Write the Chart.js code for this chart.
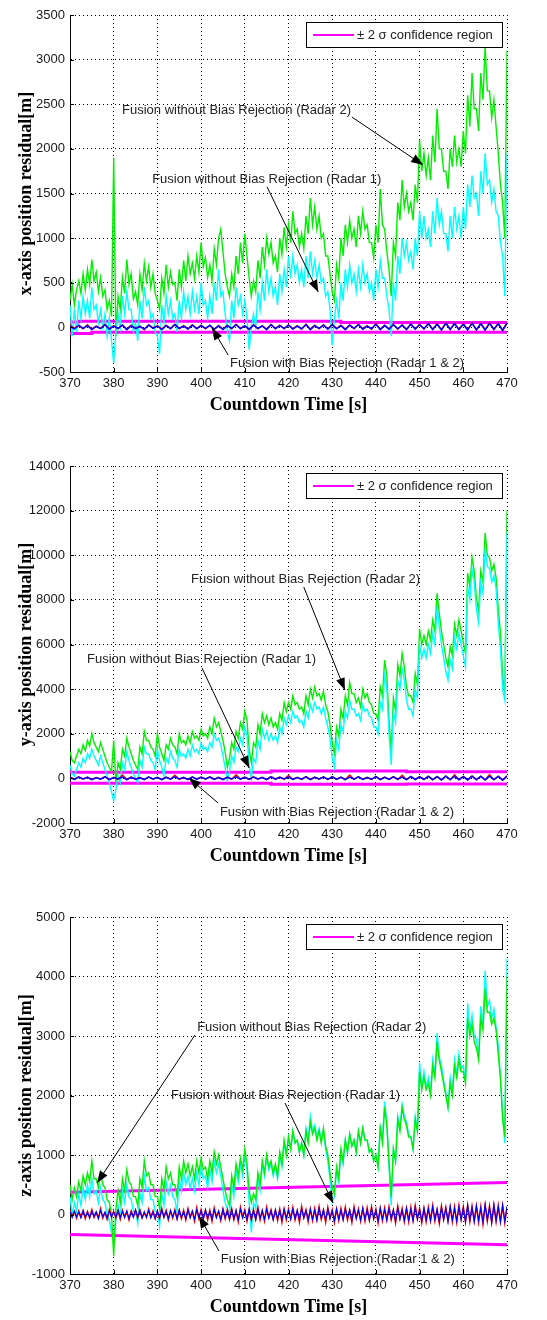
<!DOCTYPE html>
<html>
<head>
<meta charset="utf-8">
<script src="https://cdn.jsdelivr.net/npm/chart.js@4.4.0/dist/chart.umd.min.js"></script>
<style>
  html, body { margin: 0; padding: 0; background: #fff; }
  body { width: 547px; height: 1320px; position: relative; overflow: hidden; }
  canvas { position: absolute; left: 0; }
</style>
</head>
<body>
<canvas id="xChart" style="top:0px" width="547" height="418"></canvas>
<canvas id="yChart" style="top:450px" width="547" height="419"></canvas>
<canvas id="zChart" style="top:900px" width="547" height="420"></canvas>
<script>
// ---- data ----
const timeStart = 370;
const timeTicks = [370, 380, 390, 400, 410, 420, 430, 440, 450, 460, 470];
const xResTicks = [-500, 0, 500, 1000, 1500, 2000, 2500, 3000, 3500];
const yResTicks = [-2000, 0, 2000, 4000, 6000, 8000, 10000, 12000, 14000];
const zResTicks = [-1000, 0, 1000, 2000, 3000, 4000, 5000];
const legendLabel = '\u00b1 2 \u03c3 confidence region';

// x-axis residual, 0.5 s samples
const xRadar2 = [300,480, 250,420, 520,380, 600,420, 650,480, 760,520, 620,400, 560,350, 420,200, 300,120,
 1900,-100, 350,200, 560,380, 760,480, 600,320, 400,250, 600,420, 720,520, 680,450, 600,380,
 300,200, 550,380, 700,450, 620,480, 500,300, 650,450, 750,520, 800,600, 720,550, 800,620,
 950,680, 780,560, 700,520, 880,700, 1000,1100, 850,600, 450,350, 600,450, 800,600, 950,720,
 1050,800, 550,350, 520,400, 750,550, 900,700, 1000,820, 950,720, 800,620, 1000,820, 1120,900,
 1150,950, 1300,1050, 1100,900, 1050,880, 1250,1050, 1450,1150, 1350,1100, 1250,1000, 1050,800, 800,600,
 400,300, 700,550, 1000,800, 1150,950, 1200,1000, 1100,900, 1250,1050, 1300,1100, 1150,950, 950,780,
 1150,950, 1550,1150, 1100,850, 650,350, 950,800, 1400,1200, 1650,1350, 1500,1300, 1400,1200, 1600,1400,
 2100,1750, 1950,1700, 1900,1650, 2150,1850, 2450,2000, 2000,1750, 1750,1550, 2000,1800, 2150,1850, 2000,1800,
 2200,1950, 2600,2250, 2850,2450, 2450,2200, 2850,2550, 3150,2650, 2650,2350, 2550,2250, 1950,1600, 1400,1000,
 3100];
const xRadar1 = [250,-100, 200,-50, 300,100, 350,150, 300,100, 450,200, 250,50, 200,0, 150,-100, 100,-150,
 -400,-50, 150,0, 350,150, 400,200, 200,-50, 50,-150, 300,100, 450,250, 300,100, 150,-50,
 -100,-300, 250,50, 350,150, 300,100, 150,-50, 300,100, 400,200, 350,150, 400,200, 350,150,
 500,250, 300,100, 350,150, 500,300, 650,350, 400,150, -50,-150, 300,100, 450,250, 350,150,
 300,100, -250,0, 150,0, 400,200, 500,300, 650,400, 550,350, 450,250, 600,400, 650,450,
 800,550, 800,600, 700,500, 650,450, 800,550, 850,600, 750,550, 700,500, 550,350, 400,200,
 -200,100, 300,100, 500,300, 650,450, 700,500, 600,400, 650,450, 700,500, 600,400, 500,300,
 650,450, 750,550, 550,350, 200,-100, 500,300, 800,600, 1000,800, 950,750, 850,650, 1000,800,
 1300,1000, 1250,1000, 1100,900, 1300,1050, 1450,1150, 1300,1050, 1050,850, 1250,1000, 1350,1100, 1250,1000,
 1350,1100, 1600,1350, 1700,1450, 1500,1250, 1750,1500, 1950,1600, 1650,1400, 1550,1300, 1250,950, 800,350,
 1950];
// bias-rejected fusion, 1 s samples
const xBiasBlue = [15,-20,25,-10,20,-25,10,-15,30,-20,
 15,-10,25,-25,20,-15,10,-20,25,-10,
 15,-25,20,-15,30,-10,15,-20,25,-15,
 20,-10,25,-20,15,-25,20,-10,30,-15,
 20,-20,25,-10,15,-25,30,-15,20,-10,
 25,-20,15,-15,30,-25,20,-10,25,-20,
 30,-15,20,-25,25,-10,30,-20,15,-15,
 35,-25,20,-20,30,-15,25,-25,35,-20,
 30,-15,40,-25,35,-30,45,-20,40,-25,
 35,-30,45,-25,40,-30,45,-20,40,-35,
 45];
const xBiasRed = [25,-10,20,-15,30,-20,15,-10,35,-15,
 20,-15,30,-20,25,-10,15,-25,30,-5,
 20,-20,25,-10,35,-15,20,-15,30,-10,
 25,-15,20,-25,20,-20,25,-15,35,-10,
 15,-25,30,-15,20,-20,35,-10,25,-15,
 30,-15,20,-20,35,-20,25,-15,30,-15,
 35,-10,25,-20,30,-15,35,-15,20,-20,
 40,-20,25,-15,35,-20,30,-20,40,-15,
 35,-20,45,-20,40,-25,50,-25,45,-20,
 40,-25,50,-30,45,-25,50,-25,45,-30,
 50];
const xSigmaUpT = [370, 372, 372, 432, 432, 470];
const xSigmaUp = [60, 60, 68, 68, 55, 55];
const xSigmaLoT = [370, 375, 375, 470];
const xSigmaLo = [-68, -68, -55, -55];

// y-axis residual
const yRadar2 = [1200,800, 700,1000, 1300,1100, 1500,1250, 1700,1450, 2000,1600, 1400,1200, 1600,1300, 1000,700, 500,300,
 1700,-200, 700,400, 1300,1000, 1800,1400, 1100,800, 600,400, 1400,1100, 2100,1700, 1700,1400, 1300,1000,
 2000,1400, 1100,800, 1500,1300, 1800,1500, 1400,1100, 2000,1600, 1700,1500, 1900,1600, 2100,1800, 1900,1700,
 2200,1900, 2000,1800, 2300,2000, 2700,2300, 2500,2100, 1700,1200, 500,900, 1600,1300, 2100,1800, 2500,2200,
 3000,2600, 1300,700, 1600,1400, 2400,2000, 2900,2500, 2800,2400, 2700,2300, 2500,2200, 2900,2600, 3400,3000,
 3400,3100, 3700,3300, 3400,3100, 3200,2900, 3700,3300, 4000,3600, 4100,3700, 3800,3500, 3900,3300, 3000,2400,
 1600,1100, 2300,1900, 3100,2700, 3700,3300, 4300,3800, 3800,3400, 3600,3200, 4000,3600, 3800,3400, 3300,2900,
 2900,2600, 4100,3700, 5300,4600, 2600,1200, 3600,3000, 5100,4600, 5600,5000, 4100,3700, 3700,3400, 4700,4200,
 6700,6000, 6400,6000, 6600,6200, 7100,6600, 8300,7400, 6600,6000, 5400,5000, 5900,5500, 6900,6400, 7100,6600,
 6100,5600, 9200,8600, 9900,9300, 8100,7500, 9300,8800, 11000,10000, 9900,9300, 9600,9000, 7600,6500, 4600,3800,
 12000];
const yRadar1 = [600,200, 100,400, 700,500, 900,700, 1100,900, 1300,1000, 800,600, 1000,700, 400,100, -200,-600,
 -1000,-500, 100,-200, 700,400, 1200,800, 500,200, 0,-200, 800,500, 1400,1100, 1100,800, 700,400,
 1300,800, 500,100, 900,700, 1200,900, 800,500, 1300,1000, 1100,900, 1300,1000, 1500,1200, 1300,1100,
 1600,1300, 1400,1200, 1600,1400, 2000,1700, 1800,1500, 1000,500, -100,300, 1000,700, 1400,1200, 1800,1500,
 2300,1900, 600,0, 900,700, 1700,1300, 2200,1800, 2100,1700, 2000,1700, 1900,1600, 2300,2000, 2700,2400,
 2800,2500, 3000,2700, 2800,2500, 2600,2300, 3000,2700, 3300,3000, 3400,3100, 3200,2900, 3200,2700, 2300,1800,
 900,500, 1700,1300, 2400,2100, 3000,2700, 3500,3100, 3100,2800, 2900,2600, 3300,3000, 3100,2800, 2700,2300,
 2300,2000, 3400,3100, 4600,4000, 2000,600, 3000,2500, 4400,4000, 4900,4400, 3500,3100, 3100,2800, 4000,3600,
 6000,5400, 5800,5400, 6000,5600, 6500,6000, 7700,6800, 6000,5400, 4800,4400, 5300,4900, 6300,5800, 6500,6000,
 5500,5000, 8600,8000, 9400,8800, 7600,7000, 8800,8300, 10300,9500, 9400,8800, 9100,8500, 7000,5800, 4000,3500,
 11000];
const yBiasBlue = [40,-50,60,-30,50,-60,30,-40,70,-50,
 40,-30,60,-60,50,-40,30,-50,60,-30,
 40,-60,50,-40,70,-30,40,-50,60,-40,
 50,-30,60,-50,40,-60,50,-30,70,-40,
 50,-50,60,-30,40,-60,70,-40,50,-30,
 60,-50,40,-40,70,-60,50,-30,60,-50,
 70,-40,50,-60,60,-30,70,-50,40,-40,
 80,-60,50,-50,70,-40,60,-60,80,-50,
 70,-40,90,-60,80,-70,100,-50,90,-60,
 80,-70,100,-60,90,-70,100,-50,90,-80,
 100];
const yBiasRed = [50,-40,70,-40,60,-50,40,-30,80,-60,
 50,-40,150,-50,60,-30,40,-60,70,-40,
 50,-50,60,-30,140,-40,50,-60,70,-30,
 60,-40,70,-40,50,-50,60,-40,160,-30,
 60,-40,70,-40,50,-50,80,-30,60,-40,
 130,-40,50,-50,80,-50,60,-40,70,-40,
 80,-50,60,-50,150,-40,80,-40,50,-50,
 90,-50,60,-40,80,-50,140,-50,90,-40,
 80,-50,100,-50,90,-60,110,-60,160,-50,
 90,-60,110,-50,100,-60,170,-60,100,-70,
 110];
const ySigmaT = [370, 416, 416, 447, 447, 470];
const ySigmaUp = [280, 280, 330, 330, 300, 300];
const ySigmaLo = [-220, -220, -260, -260, -250, -250];

// z-axis residual
const zRadar2 = [500,250, 450,300, 550,400, 650,500, 700,550, 900,600, 600,450, 700,500, 450,250, 200,0,
 -700,100, 400,200, 600,400, 750,550, 500,300, 300,150, 600,450, 900,650, 700,500, 500,300,
 300,100, 600,400, 800,600, 700,500, 500,300, 800,600, 900,700, 850,650, 800,600, 900,700,
 950,750, 800,600, 900,700, 1050,850, 1000,800, 600,400, 250,150, 650,450, 850,650, 950,750,
 1100,850, 400,200, 350,250, 700,500, 900,700, 1000,800, 900,700, 850,650, 1050,850, 1250,1000,
 1300,1100, 1400,1200, 1250,1050, 1200,1000, 1400,1200, 1550,1350, 1450,1250, 1400,1200, 1450,1150, 1000,700,
 450,350, 800,600, 1100,900, 1250,1050, 1350,1150, 1250,1050, 1400,1200, 1450,1250, 1250,1050, 1100,900,
 1000,800, 1450,1200, 1800,1500, 900,300, 1100,900, 1600,1400, 1800,1600, 1500,1300, 1300,1100, 1600,1400,
 2400,2100, 2300,2100, 2200,2000, 2500,2300, 2900,2600, 2400,2200, 2000,1800, 2200,2000, 2500,2300, 2600,2400,
 2400,2200, 3300,3000, 3200,2900, 2800,2600, 3300,3100, 3800,3400, 3400,3200, 3300,3100, 2700,2300, 1600,1300,
 4000];
const zRadar1 = [300,0, 200,50, 350,150, 450,250, 500,300, 600,350, 400,200, 450,250, 200,0, -100,-300,
 -400,-100, 150,-50, 400,200, 500,300, 250,50, 50,-150, 350,200, 650,400, 450,250, 250,50,
 50,-200, 350,150, 550,350, 500,300, 250,50, 600,400, 700,500, 650,450, 600,400, 700,500,
 800,600, 650,450, 750,550, 900,700, 850,650, 400,200, 100,0, 500,300, 750,550, 850,650,
 1000,750, 200,-300, 200,100, 600,400, 850,650, 950,750, 850,650, 800,600, 1000,800, 1200,1000,
 1300,1100, 1400,1200, 1250,1050, 1200,1000, 1450,1250, 1650,1400, 1500,1300, 1450,1250, 1400,1100, 900,600,
 200,300, 750,550, 1050,850, 1250,1050, 1350,1150, 1250,1050, 1400,1200, 1450,1250, 1250,1050, 1100,900,
 1000,800, 1500,1250, 1900,1550, 800,150, 1100,900, 1650,1450, 1850,1650, 1550,1350, 1300,1100, 1650,1400,
 2550,2150, 2400,2150, 2300,2050, 2600,2350, 3050,2650, 2500,2250, 2050,1800, 2300,2050, 2600,2350, 2700,2450,
 2500,2250, 3550,3100, 3350,3000, 2950,2650, 3500,3200, 4100,3500, 3600,3300, 3450,3150, 2850,2300, 1700,1200,
 4300];
const zBiasBlue = [50,-50, 60,-40, 40,-60, 70,-40, 40,-60, 60,-30, 50,-70, 70,-40, 40,-60, 60,-50,
 40,-40, 70,-50, 50,-40, 60,-70, 40,-50, 80,-40, 60,-60, 50,-40, 70,-60, 40,-70,
 60,-50, 80,-50, 50,-70, 70,-40, 60,-80, 80,-50, 50,-70, 80,-60, 60,-80, 80,-50,
 60,-80, 80,-60, 50,-80, 80,-60, 60,-80, 90,-50, 60,-80, 80,-70, 70,-90, 90,-60,
 60,-80, 90,-70, 60,-90, 90,-60, 70,-80, 90,-60, 60,-90, 80,-70, 70,-90, 90,-60,
 70,-80, 90,-70, 70,-90, 100,-60, 60,-90, 90,-80, 70,-100, 100,-60, 80,-90, 90,-70,
 60,-100, 100,-80, 70,-90, 90,-60, 80,-100, 100,-70, 70,-90, 110,-80, 80,-100, 100,-70,
 70,-110, 110,-80, 80,-100, 100,-70, 80,-110, 110,-80, 70,-100, 110,-90, 90,-110, 120,-80,
 80,-110, 110,-90, 90,-110, 130,-80, 90,-120, 120,-90, 100,-120, 140,-90, 100,-110, 130,-90,
 110,-130, 160,-90, 120,-120, 150,-100, 110,-130, 170,-90, 120,-140, 170,-100, 130,-130, 160,-110,
 140];
const zBiasRed = [70,-30, 50,-60, 60,-40, 60,-70, 50,-50, 80,-50, 30,-60, 100,-60, 30,-80, 80,-30,
 50,-60, 60,-80, 70,-50, 50,-90, 60,-30, 70,-60, 80,-50, 30,-50, 90,-40, 60,-70,
 50,-70, 100,-40, 70,-90, 60,-60, 80,-70, 70,-70, 70,-90, 100,-40, 50,-110, 110,-70,
 80,-70, 70,-90, 70,-110, 110,-40, 50,-100, 90,-70, 80,-80, 100,-90, 60,-120, 120,-40,
 80,-110, 80,-90, 80,-80, 120,-90, 60,-110, 120,-50, 80,-80, 70,-100, 90,-130, 90,-90,
 90,-70, 120,-90, 60,-130, 130,-50, 80,-120, 90,-100, 100,-90, 130,-80, 70,-130, 120,-60,
 80,-130, 90,-100, 100,-80, 120,-90, 70,-130, 130,-60, 90,-110, 100,-110, 110,-90, 130,-70,
 90,-140, 100,-100, 110,-90, 130,-90, 70,-140, 140,-70, 100,-120, 100,-120, 120,-100, 150,-70,
 100,-140, 100,-120, 120,-100, 150,-110, 80,-150, 140,-80, 120,-110, 120,-120, 130,-130, 150,-80,
 130,-120, 150,-120, 140,-110, 140,-130, 130,-160, 160,-110, 140,-130, 150,-120, 150,-110, 150,-140,
 120];
const zSigmaT = [370, 470];
const zSigmaUp = [375, 537];
const zSigmaLo = [-336, -509];

// ---- helpers ----
const tickFont = { family: "'Liberation Sans', Arial, sans-serif", size: 13 };
const titleFont = { family: "'Liberation Serif', 'Times New Roman', serif", size: 18, weight: 'bold' };
const noteFont = "13px 'Liberation Sans', Arial, sans-serif";

function sampled(vals, step) {
  return vals.map((v, i) => ({ x: timeStart + i * step, y: v }));
}
function paired(ts, vs) {
  return ts.map((t, i) => ({ x: t, y: vs[i] }));
}
function line(label, data, color, width, order) {
  return { label, data, borderColor: color, backgroundColor: color, borderWidth: width,
    pointRadius: 0, tension: 0, fill: false, order };
}

// inner tick marks (left and bottom), like the original axes
const ticksPlugin = {
  id: 'innerTicks',
  afterDraw(chart) {
    const { ctx, chartArea: a, scales: { x, y } } = chart;
    ctx.save();
    ctx.strokeStyle = '#000';
    ctx.lineWidth = 1;
    ctx.beginPath();
    y.ticks.forEach(t => {
      const py = Math.round(y.getPixelForValue(t.value)) + 0.5;
      ctx.moveTo(a.left, py);
      ctx.lineTo(a.left + 4, py);
    });
    x.ticks.forEach(t => {
      const px = Math.round(x.getPixelForValue(t.value)) + 0.5;
      ctx.moveTo(px, a.bottom);
      ctx.lineTo(px, a.bottom - 4);
    });
    ctx.stroke();
    ctx.restore();
  }
};

// text + arrow annotations and the boxed legend
const notesPlugin = {
  id: 'notes',
  afterDatasetsDraw(chart, args, opts) {
    const { ctx, scales: { x, y } } = chart;
    ctx.save();
    ctx.font = noteFont;
    ctx.textBaseline = 'middle';
    opts.items.forEach(n => {
      const x0 = x.getPixelForValue(n.from[0]), y0 = y.getPixelForValue(n.from[1]);
      const x1 = x.getPixelForValue(n.to[0]), y1 = y.getPixelForValue(n.to[1]);
      ctx.strokeStyle = '#000';
      ctx.lineWidth = 1;
      ctx.beginPath();
      ctx.moveTo(x0, y0);
      ctx.lineTo(x1, y1);
      ctx.stroke();
      const a = Math.atan2(y1 - y0, x1 - x0);
      const L = 12, W = 4.5;
      ctx.fillStyle = '#000';
      ctx.beginPath();
      ctx.moveTo(x1, y1);
      ctx.lineTo(x1 - L * Math.cos(a) + W * Math.sin(a), y1 - L * Math.sin(a) - W * Math.cos(a));
      ctx.lineTo(x1 - L * Math.cos(a) - W * Math.sin(a), y1 - L * Math.sin(a) + W * Math.cos(a));
      ctx.closePath();
      ctx.fill();
      ctx.fillStyle = '#222';
      ctx.fillText(n.text, x.getPixelForValue(n.at[0]), y.getPixelForValue(n.at[1]));
    });
    // legend box
    const area = chart.chartArea;
    const bx = Math.round(area.right - 201), by = Math.round(area.top + 7), bw = 196, bh = 25;
    ctx.fillStyle = '#fff';
    ctx.fillRect(bx, by, bw, bh);
    ctx.strokeStyle = '#000';
    ctx.lineWidth = 1;
    ctx.strokeRect(bx + 0.5, by + 0.5, bw, bh);
    ctx.strokeStyle = '#ff00ff';
    ctx.lineWidth = 2;
    ctx.beginPath();
    ctx.moveTo(bx + 7, by + bh / 2 + 0.5);
    ctx.lineTo(bx + 48, by + bh / 2 + 0.5);
    ctx.stroke();
    ctx.fillStyle = '#222';
    ctx.fillText(legendLabel, bx + 51, by + bh / 2 + 1);
    ctx.restore();
  }
};

function makeChart(id, c) {
  const datasets = [
    line('Fusion with Bias Rejection (Radar 1 & 2)', sampled(c.blue, c.biasStep), '#0000ff', c.blueWidth, 1),
    line('Fusion with Bias Rejection (Radar 1 & 2) ', sampled(c.red, c.biasStep), '#ff0000', c.redWidth, 2),
    line('Fusion without Bias Rejection (Radar 1)', sampled(c.radar1, 0.5), '#00ffff', 1.4, c.cyanOrder),
    line('Fusion without Bias Rejection (Radar 2)', sampled(c.radar2, 0.5), '#00ee00', 1.4, c.greenOrder),
    line(legendLabel, paired(c.sigUpT, c.sigUp), '#ff00ff', 3, 6),
    line(legendLabel + ' ', paired(c.sigLoT, c.sigLo), '#ff00ff', 3, 6)
  ];
  return new Chart(document.getElementById(id), {
    type: 'line',
    data: { datasets },
    options: {
      responsive: false,
      animation: false,
      parsing: false,
      layout: { padding: { top: c.top, right: 40, left: 0, bottom: 0 } },
      plugins: {
        legend: { display: false },
        tooltip: { enabled: false },
        notes: { items: c.notes }
      },
      scales: {
        x: {
          type: 'linear',
          min: timeTicks[0],
          max: timeTicks[timeTicks.length - 1],
          afterBuildTicks: s => { s.ticks = timeTicks.map(v => ({ value: v })); },
          afterFit: s => { s.height = 46; },
          grid: { color: '#000', lineWidth: 1, drawTicks: false },
          border: { display: true, color: '#000', width: 1, dash: [1, 3] },
          ticks: { padding: 4, color: '#1a1a1a', font: tickFont, maxRotation: 0, autoSkip: false,
            callback: v => String(v) },
          title: { display: true, text: 'Countdown Time [s]', color: '#000', font: titleFont,
            padding: { top: 0, bottom: 2 } }
        },
        y: {
          type: 'linear',
          min: c.yTicks[0],
          max: c.yTicks[c.yTicks.length - 1],
          afterBuildTicks: s => { s.ticks = c.yTicks.map(v => ({ value: v })); },
          afterFit: s => { s.width = 70; },
          grid: { color: '#000', lineWidth: 1, drawTicks: false },
          border: { display: true, color: '#000', width: 1, dash: [1, 3] },
          ticks: { padding: 5, color: '#1a1a1a', font: tickFont, autoSkip: false,
            callback: v => String(v) },
          title: { display: true, text: c.yTitle, color: '#000', font: titleFont,
            padding: { top: 16, bottom: 0 } }
        }
      }
    },
    plugins: [notesPlugin, ticksPlugin]
  });
}

makeChart('xChart', {
  top: 15, yTicks: xResTicks, yTitle: 'x-axis position residual[m]',
  radar2: xRadar2, radar1: xRadar1, blue: xBiasBlue, red: xBiasRed, biasStep: 1,
  blueWidth: 1.5, redWidth: 1.5,
  sigUpT: xSigmaUpT, sigUp: xSigmaUp, sigLoT: xSigmaLoT, sigLo: xSigmaLo,
  cyanOrder: 3, greenOrder: 4,
  notes: [
    { text: 'Fusion without Bias Rejection (Radar 2)', at: [381.9, 2435], from: [434.5, 2357], to: [450.8, 1819] },
    { text: 'Fusion without Bias Rejection (Radar 1)', at: [388.8, 1662], from: [415.1, 1573], to: [426.8, 396] },
    { text: 'Fusion with Bias Rejection (Radar 1 & 2)', at: [406.6, -399], from: [406.2, -310], to: [402.5, -7] }
  ]
});

makeChart('yChart', {
  top: 16, yTicks: yResTicks, yTitle: 'y-axis position residual[m]',
  radar2: yRadar2, radar1: yRadar1, blue: yBiasBlue, red: yBiasRed, biasStep: 1,
  blueWidth: 1.5, redWidth: 1.5,
  sigUpT: ySigmaT, sigUp: ySigmaUp, sigLoT: ySigmaT, sigLo: ySigmaLo,
  cyanOrder: 3, greenOrder: 4,
  notes: [
    { text: 'Fusion without Bias Rejection (Radar 2)', at: [397.7, 8935], from: [423.5, 8577], to: [432.9, 3961] },
    { text: 'Fusion without Bias Rejection (Radar 1)', at: [373.9, 5350], from: [400.2, 4947], to: [411.0, 465] },
    { text: 'Fusion with Bias Rejection (Radar 1 & 2)', at: [404.3, -1507], from: [403.9, -1104], to: [397.2, 17] }
  ]
});

makeChart('zChart', {
  top: 17, yTicks: zResTicks, yTitle: 'z-axis position residual[m]',
  radar2: zRadar2, radar1: zRadar1, blue: zBiasBlue, red: zBiasRed, biasStep: 0.5,
  blueWidth: 1.1, redWidth: 1.5,
  sigUpT: zSigmaT, sigUp: zSigmaUp, sigLoT: zSigmaT, sigLo: zSigmaLo,
  cyanOrder: 4, greenOrder: 3,
  notes: [
    { text: 'Fusion without Bias Rejection (Radar 2)', at: [399.1, 3151], from: [398.6, 3017], to: [376.2, 529] },
    { text: 'Fusion without Bias Rejection (Radar 1)', at: [393.1, 2008], from: [419.2, 1874], to: [430.2, 193] },
    { text: 'Fusion with Bias Rejection (Radar 1 & 2)', at: [404.5, -748], from: [404.1, -613], to: [399.5, -25] }
  ]
});
</script>
</body>
</html>
